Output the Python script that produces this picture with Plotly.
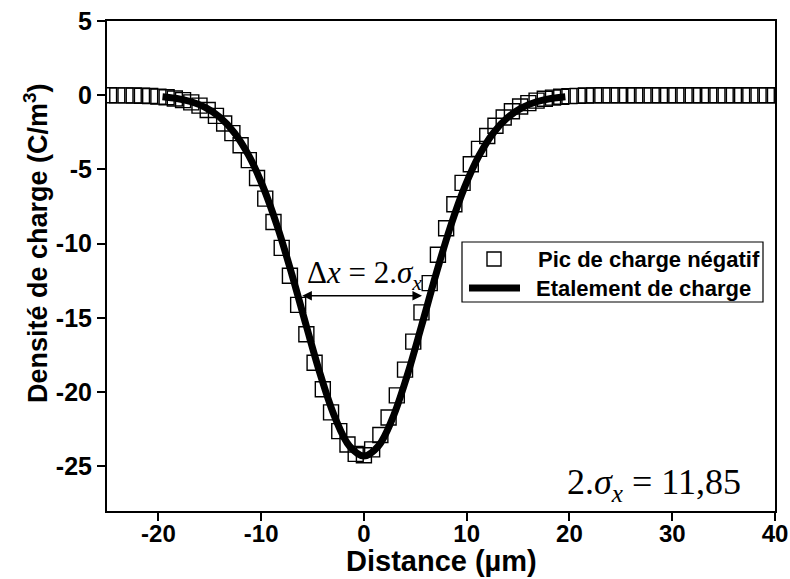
import plotly.graph_objects as go

# ---------------- data ----------------
pic_x = [-24.8, -24.0, -23.2, -22.4, -21.6, -20.8, -20.0, -19.2, -18.4, -17.6,
         -16.8, -16.0, -15.2, -14.4, -13.6, -12.8, -12.0, -11.2, -10.4, -9.6,
         -8.8, -8.0, -7.2, -6.4, -5.6, -4.8, -4.0, -3.2, -2.4, -1.6,
         -0.8, 0.0, 0.8, 1.6, 2.4, 3.2, 4.0, 4.8, 5.6, 6.4,
         7.2, 8.0, 8.8, 9.6, 10.4, 11.2, 12.0, 12.8, 13.6, 14.4,
         15.2, 16.0, 16.8, 17.6, 18.4, 19.2, 20.0, 20.8, 21.6, 22.4,
         23.2, 24.0, 24.8, 25.6, 26.4, 27.2, 28.0, 28.8, 29.6, 30.4,
         31.2, 32.0, 32.8, 33.6, 34.4, 35.2, 36.0, 36.8, 37.6, 38.4,
         39.2, 40.0]
pic_y = [0.00, -0.01, -0.01, -0.02, -0.03, -0.05, -0.09, -0.14, -0.22, -0.33,
         -0.48, -0.70, -0.99, -1.39, -1.90, -2.55, -3.37, -4.37, -5.57, -6.96,
         -8.54, -10.28, -12.16, -14.12, -16.10, -18.02, -19.80, -21.36, -22.62, -23.52,
         -24.15, -24.25, -23.85, -22.88, -21.70, -20.21, -18.48, -16.59, -14.62, -12.65,
         -10.74, -8.96, -7.34, -5.90, -4.65, -3.61, -2.74, -2.05, -1.50, -1.08,
         -0.76, -0.53, -0.36, -0.24, -0.16, -0.10, -0.06, -0.04, -0.02, -0.01,
         0.00, 0.00, 0.00, 0.00, 0.00, 0.00, 0.00, 0.00, 0.00, 0.00,
         0.00, 0.00, 0.00, 0.00, 0.00, 0.00, 0.00, 0.00, 0.00, 0.00,
         0.00, 0.00]

fit_x = [-19.6, -18.2, -16.8, -15.4, -14.0, -12.6, -11.2, -9.8, -8.4, -7.0,
         -5.6, -4.2, -2.8, -1.4, 0.0, 1.4, 2.8, 4.2, 5.6, 7.0,
         8.4, 9.8, 11.2, 12.6, 14.0, 15.4, 16.8, 18.2, 19.6]
fit_y = [-0.10, -0.22, -0.44, -0.83, -1.49, -2.53, -4.07, -6.19, -8.89, -12.09,
         -15.55, -18.90, -21.73, -23.63, -24.30, -23.63, -21.73, -18.90, -15.55, -12.09,
         -8.89, -6.19, -4.07, -2.53, -1.49, -0.83, -0.44, -0.22, -0.10]

x_ticks = [-20, -10, 0, 10, 20, 30, 40]
x_ticktext = ["-20", "-10", "0", "10", "20", "30", "40"]
y_ticks = [-25, -20, -15, -10, -5, 0, 5]
y_ticktext = ["-25", "-20", "-15", "-10", "-5", "0", "5"]
legend_labels = ["Pic de charge négatif", "Etalement de charge"]
arrow_x = [-6.0, 5.8]
arrow_y = -13.5
width_label = "Δ<i>x</i> = 2.<i>σ</i><sub><i>x</i></sub>"
result_label = "2.<i>σ</i><sub><i>x</i></sub> = 11,85"
x_title = "Distance (µm)"
y_title = "Densité de charge (C/m<sup>3</sup>)"

# ---------------- layout helpers ----------------
W, H = 790, 579
L, R, T, B = 107, 15, 21, 68
PW, PH = W - L - R, H - T - B


def px(x):
    return (x - L) / PW


def py(y):
    return 1 - (y - T) / PH


SANS = "Liberation Sans, Arial, sans-serif"
SERIF = "Liberation Serif, Times New Roman, serif"

fig = go.Figure()
fig.add_trace(go.Scatter(
    x=pic_x, y=pic_y, mode="markers", name=legend_labels[0],
    marker=dict(symbol="square-open", size=15, color="black",
                line=dict(width=1.4, color="black")),
    showlegend=False))
fig.add_trace(go.Scatter(
    x=fit_x, y=fit_y, mode="lines", name=legend_labels[1],
    line=dict(color="black", width=7, shape="spline"),
    showlegend=False))

axis_common = dict(
    showgrid=False, zeroline=False, showline=True, linewidth=2,
    linecolor="black", mirror=True, ticks="outside", ticklen=8,
    tickwidth=2, tickcolor="black",
)

fig.update_layout(
    width=W, height=H,
    margin=dict(l=L, r=R, t=T, b=B, autoexpand=False),
    paper_bgcolor="white", plot_bgcolor="white",
    showlegend=False,
    xaxis=dict(range=[-25, 40], tickvals=x_ticks, ticktext=x_ticktext,
               ticklabelstandoff=-8,
               tickfont=dict(family=SANS, size=24, color="black", weight="bold"),
               **axis_common),
    yaxis=dict(range=[-28, 5], tickvals=y_ticks, ticktext=y_ticktext,
               tickfont=dict(family=SANS, size=25, color="black", weight="bold"),
               **axis_common),
)

# axis titles placed where the reference has them
fig.add_annotation(x=px(441), y=py(561), xref="paper", yref="paper",
                   text=x_title, showarrow=False,
                   xanchor="center", yanchor="middle",
                   font=dict(family=SANS, size=29, color="black", weight="bold"))
fig.add_annotation(x=px(36), y=py(243), xref="paper", yref="paper",
                   text=y_title, showarrow=False, textangle=-90,
                   xanchor="center", yanchor="middle",
                   font=dict(family=SANS, size=27, color="black", weight="bold"))

# double-headed arrow showing the width
fig.add_annotation(x=arrow_x[0], y=arrow_y, ax=arrow_x[1], ay=arrow_y,
                   xref="x", yref="y", axref="x", ayref="y", text="",
                   showarrow=True, arrowhead=2, arrowside="end+start",
                   arrowwidth=1.6, arrowsize=1.2, arrowcolor="black")
fig.add_annotation(x=px(364), y=py(275), xref="paper", yref="paper",
                   text=width_label, showarrow=False, xanchor="center", yanchor="middle",
                   font=dict(family=SERIF, size=31, color="black"))
fig.add_annotation(x=px(654), y=py(484), xref="paper", yref="paper",
                   text=result_label, showarrow=False, xanchor="center", yanchor="middle",
                   font=dict(family=SERIF, size=36, color="black"))

# legend drawn by hand to match the reference box
fig.add_shape(type="rect", xref="paper", yref="paper",
              x0=px(462), x1=px(763), y0=py(302), y1=py(242),
              line=dict(color="black", width=1.2), fillcolor="white", layer="above")
fig.add_shape(type="rect", xref="paper", yref="paper",
              x0=px(487), x1=px(501), y0=py(266), y1=py(252),
              line=dict(color="black", width=1.4), layer="above")
fig.add_shape(type="line", xref="paper", yref="paper",
              x0=px(469), x1=px(520), y0=py(288), y1=py(288),
              line=dict(color="black", width=7), layer="above")
fig.add_annotation(x=px(536), y=py(259), xref="paper", yref="paper",
                   text=legend_labels[0], showarrow=False, xanchor="left", yanchor="middle",
                   font=dict(family=SANS, size=22, color="black", weight="bold"))
fig.add_annotation(x=px(534), y=py(288), xref="paper", yref="paper",
                   text=legend_labels[1], showarrow=False, xanchor="left", yanchor="middle",
                   font=dict(family=SANS, size=22, color="black", weight="bold"))

fig.write_html("out.html")
